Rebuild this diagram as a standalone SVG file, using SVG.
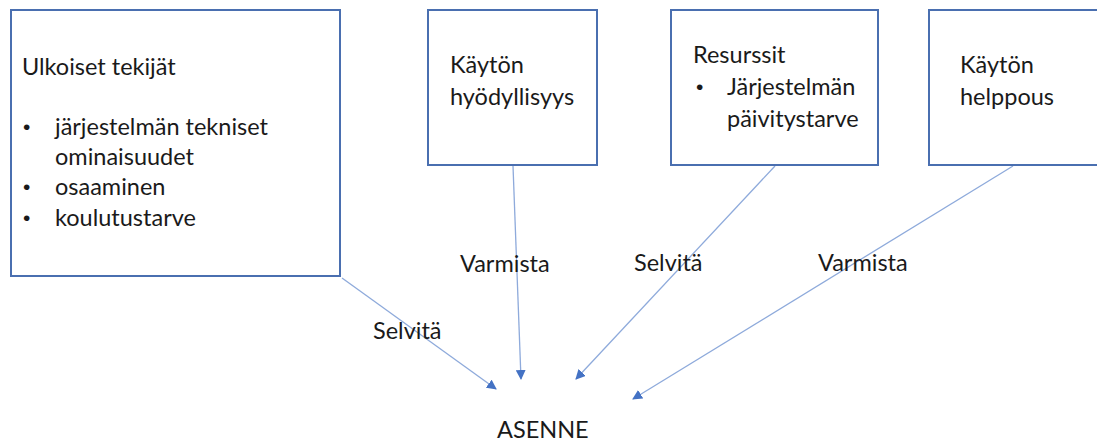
<svg xmlns="http://www.w3.org/2000/svg" width="1097" height="443" viewBox="0 0 1097 443">
  <style>
    .box { fill: #ffffff; stroke: #4a6fb0; stroke-width: 2; }
    .t { font-family: Lato, "Open Sans", "Liberation Sans", sans-serif; font-size: 23.5px; fill: #1a1a1a; }
    .b { font-family: "Liberation Sans", sans-serif; font-size: 21px; fill: #1a1a1a; }
    .link { stroke: #8eaadb; stroke-width: 1.3; fill: none; marker-end: url(#arrow); }
  </style>
  <defs>
    <marker id="arrow" viewBox="0 0 10 10" refX="9" refY="5" markerWidth="10" markerHeight="10" markerUnits="userSpaceOnUse" orient="auto">
      <path d="M0,0 L10,5 L0,10 Z" fill="#4472c4"/>
    </marker>
  </defs>

  <rect width="1097" height="443" fill="#ffffff"/>

  <g id="connectors">
    <line class="link" x1="342" y1="278" x2="496" y2="389"/>
    <line class="link" x1="513" y1="166" x2="521" y2="379"/>
    <line class="link" x1="775" y1="166" x2="576" y2="379"/>
    <line class="link" x1="1013" y1="166" x2="633" y2="399"/>
  </g>

  <g id="ulkoiset">
    <rect class="box" x="11" y="10" width="329" height="266"/>
    <text class="t" x="22" y="75">Ulkoiset tekijät</text>
    <text class="b" x="23" y="134">•</text>
    <text class="t" x="55" y="135">järjestelmän tekniset</text>
    <text class="t" x="55" y="165">ominaisuudet</text>
    <text class="b" x="23" y="194">•</text>
    <text class="t" x="55" y="195">osaaminen</text>
    <text class="b" x="23" y="225">•</text>
    <text class="t" x="55" y="226">koulutustarve</text>
  </g>

  <g id="hyodyllisyys">
    <rect class="box" x="428" y="10" width="169" height="155"/>
    <text class="t" x="450" y="73">Käytön</text>
    <text class="t" x="450" y="105">hyödyllisyys</text>
  </g>

  <g id="resurssit">
    <rect class="box" x="671" y="10" width="207" height="155"/>
    <text class="t" x="693" y="63">Resurssit</text>
    <text class="b" x="696" y="94">•</text>
    <text class="t" x="727" y="95">Järjestelmän</text>
    <text class="t" x="727" y="127">päivitystarve</text>
  </g>

  <g id="helppous">
    <rect class="box" x="929" y="10" width="175" height="155"/>
    <text class="t" x="960" y="73">Käytön</text>
    <text class="t" x="960" y="105">helppous</text>
  </g>

  <g id="labels">
    <text class="t" x="373" y="339">Selvitä</text>
    <text class="t" x="460" y="272">Varmista</text>
    <text class="t" x="634" y="271">Selvitä</text>
    <text class="t" x="818" y="271">Varmista</text>
  </g>

  <g id="asenne">
    <text class="t" x="497" y="438">ASENNE</text>
  </g>
</svg>
